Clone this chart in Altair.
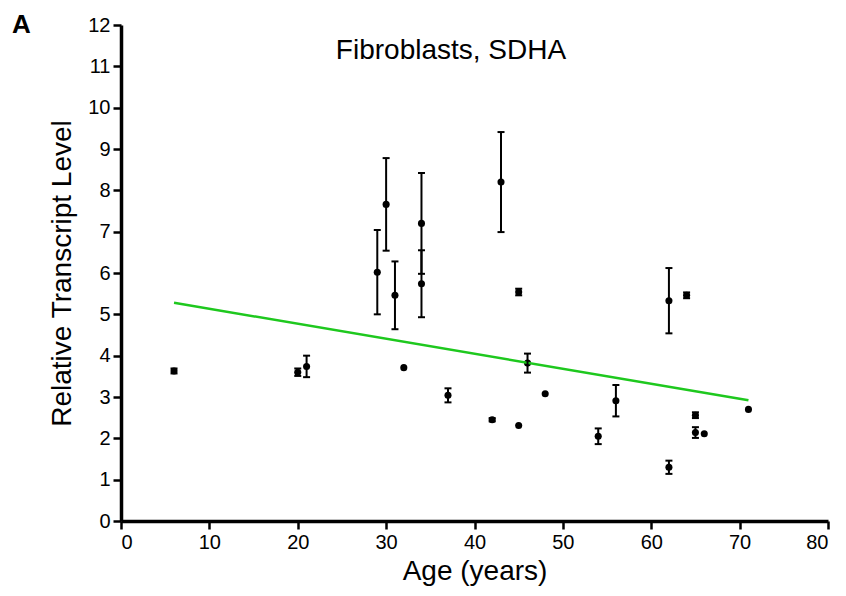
import altair as alt
import pandas as pd

# ---- data ----
age = [6, 20, 21, 29, 30, 31, 32, 34, 34, 37, 42, 43, 45, 45, 46, 48, 54, 56, 62, 62, 64, 65, 65, 66, 71]
level = [3.63, 3.60, 3.74, 6.02, 7.66, 5.46, 3.71, 7.20, 5.74, 3.04, 2.45, 8.20, 5.54, 2.31, 3.82, 3.08,
         2.05, 2.91, 5.33, 1.30, 5.46, 2.56, 2.14, 2.11, 2.70]
sem = [0.06, 0.09, 0.26, 1.02, 1.12, 0.82, 0.0, 1.22, 0.81, 0.17, 0.04, 1.21, 0.08, 0.0, 0.23, 0.0,
       0.19, 0.38, 0.79, 0.16, 0.07, 0.07, 0.13, 0.0, 0.0]

fit_age = [6, 71]
fit_level = [5.28, 2.92]

x_ticks = [0, 10, 20, 30, 40, 50, 60, 70, 80]
y_ticks = list(range(0, 13))

chart_title = "Fibroblasts, SDHA"
panel_label = "A"
x_title = "Age (years)"
y_title = "Relative Transcript Level"

# ---- tables ----
df = pd.DataFrame({"age": age, "level": level, "sem": sem})
df["lo"] = df["level"] - df["sem"]
df["hi"] = df["level"] + df["sem"]
err = df[df["sem"] > 0]
fit = pd.DataFrame({"age": fit_age, "level": fit_level})
lab = pd.DataFrame({"t": [panel_label]})
ttl = pd.DataFrame({"t": [chart_title]})

FONT = "Liberation Sans"
xs = alt.Scale(domain=[0, 80], nice=False, zero=False)
ys = alt.Scale(domain=[0, 12], nice=False, zero=False)
xa = alt.Axis(values=x_ticks, format="d", labelPadding=3, titlePadding=5,
              domainWidth=3.5, domainColor="black", tickWidth=2.5, tickColor="black")
ya = alt.Axis(values=y_ticks, format="d", labelPadding=3, titlePadding=11,
              domainWidth=3.5, domainColor="black", tickWidth=2.5, tickColor="black")


def X(f):
    return alt.X(f, type="quantitative", scale=xs, title=x_title, axis=xa)


def Y(f):
    return alt.Y(f, type="quantitative", scale=ys, title=y_title, axis=ya)


points = alt.Chart(df).mark_point(filled=True, size=50, color="black", opacity=1).encode(
    x=X("age"), y=Y("level"))

bars = alt.Chart(err).mark_rule(color="black", strokeWidth=2).encode(
    x=X("age"), y=Y("lo"), y2="hi:Q")

cap_lo = alt.Chart(err).mark_tick(color="black", orient="horizontal", size=7, thickness=2, opacity=1).encode(
    x=X("age"), y=Y("lo"))
cap_hi = alt.Chart(err).mark_tick(color="black", orient="horizontal", size=7, thickness=2, opacity=1).encode(
    x=X("age"), y=Y("hi"))

line = alt.Chart(fit).mark_line(color="#1ec81e", strokeWidth=2.5).encode(
    x=X("age"), y=Y("level"))

title_txt = alt.Chart(ttl).mark_text(font=FONT, fontSize=28, align="center", baseline="alphabetic",
                                     color="black").encode(
    x=alt.value(330), y=alt.value(34), text="t:N")

label_txt = alt.Chart(lab).mark_text(font=FONT, fontSize=26, fontWeight="bold", align="left",
                                     baseline="alphabetic", color="black").encode(
    x=alt.value(-109), y=alt.value(8), text="t:N")

chart = alt.layer(points, line, bars, cap_lo, cap_hi, title_txt, label_txt).properties(
    width=707, height=496,
    autosize=alt.AutoSizeParams(type="none"),
    padding={"left": 121, "top": 25, "right": 18, "bottom": 75},
    background="white",
).configure_view(stroke=None).configure_axis(
    grid=False, tickSize=8,
    labelFont=FONT, labelFontSize=20, labelColor="#000000",
    titleFont=FONT, titleFontSize=28, titleFontWeight="normal", titleColor="#000000",
)

chart.save("out.html", embed_options={"renderer": "svg", "actions": False})
